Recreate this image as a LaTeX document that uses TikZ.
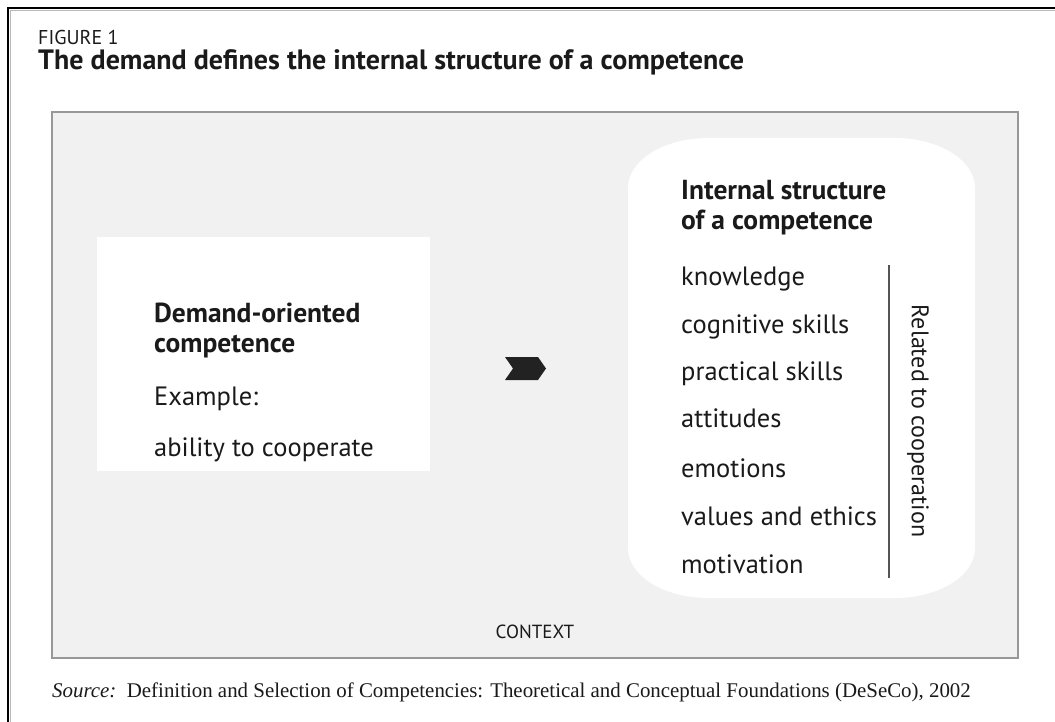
\documentclass[tikz,border=0pt]{standalone}
\usepackage{fontspec}
\setmainfont{PT Sans}
\newfontfamily\srcfont{Liberation Serif}
\definecolor{txt}{HTML}{1A1A1A}
\definecolor{ctxbg}{HTML}{F1F1F1}
\definecolor{ctxline}{HTML}{989898}
\definecolor{chevc}{HTML}{222222}
\definecolor{sepc}{HTML}{555555}
\tikzset{
  lbl/.style={anchor=base west, inner sep=0pt, text=txt, font=\fontsize{26.5}{30}\selectfont},
  hd/.style={lbl, font=\fontsize{27.5}{30}\selectfont\bfseries},
  panel/.style={fill=white, draw=none},
}
\begin{document}
\begin{tikzpicture}[x=1pt,y=-1pt]
\useasboundingbox (0,0) rectangle (1055,722);
\fill[white] (0,0) rectangle (1055,722);
% outer frame (top and left only)
\draw[gray!55, line width=1.5pt] (10.5,722) -- (10.5,10.5) -- (1055,10.5);
\draw[black, line width=2.6pt] (8,722) -- (8,8) -- (1055,8);
% headings
\node[lbl, font=\fontsize{20}{22}\selectfont] (fig) at (38,45) {FIGURE 1};
\node[lbl, font=\fontsize{28}{30}\selectfont\bfseries] (title) at (38,70) {The demand defines the internal structure of a competence};
% context box
\draw[draw=ctxline, line width=2.5pt, fill=ctxbg] (52,112) rectangle (1018,658);
\node[lbl, anchor=base, font=\fontsize{19}{24}\selectfont] (ctx) at (535,638) {CONTEXT};
% left panel
\fill[panel] (97,237) rectangle (430,471);
\node[hd] (d1) at (154,322) {Demand-oriented};
\node[hd] (d2) at (154,352) {competence};
\node[lbl] (ex) at (154,405) {Example:};
\node[lbl] (ab) at (154,456) {ability to cooperate};
% chevron
\fill[chevc] (505,357) -- (538,357) -- (546,368.5) -- (538,380) -- (505,380) -- (513,368.5) -- cycle;
% right rounded panel
\fill[panel] (708,138) -- (895,138) .. controls (939.2,138) and (975,160.4) .. (975,188)
  -- (975,548) .. controls (975,575.6) and (939.2,598) .. (895,598)
  -- (708,598) .. controls (663.8,598) and (628,575.6) .. (628,548)
  -- (628,188) .. controls (628,160.4) and (663.8,138) .. (708,138) -- cycle;
\node[hd] (i1) at (681,200) {Internal structure};
\node[hd] (i2) at (681,230) {of a competence};
\node[lbl] (k1) at (681,285) {knowledge};
\node[lbl] (k2) at (681,333) {cognitive skills};
\node[lbl] (k3) at (681,380) {practical skills};
\node[lbl] (k4) at (681,427) {attitudes};
\node[lbl] (k5) at (681,477) {emotions};
\node[lbl] (k6) at (681,525) {values and ethics};
\node[lbl] (k7) at (681,573) {motivation};
\coordinate (st) at (889,265);
\coordinate (sb) at (889,578);
\draw[sepc, line width=1.2pt] (st) -- (sb);
\node[lbl, anchor=center, rotate=-90, font=\fontsize{24}{28}\selectfont] (rel) at (918,421) {Related to cooperation};
% source
\node[lbl, font=\fontsize{20.9}{24}\srcfont] (src) at (52,697) {\textit{Source:}\hspace{0.5em}Definition and Selection of Competencies: Theoretical and Conceptual Foundations (DeSeCo), 2002};
\end{tikzpicture}
\end{document}
